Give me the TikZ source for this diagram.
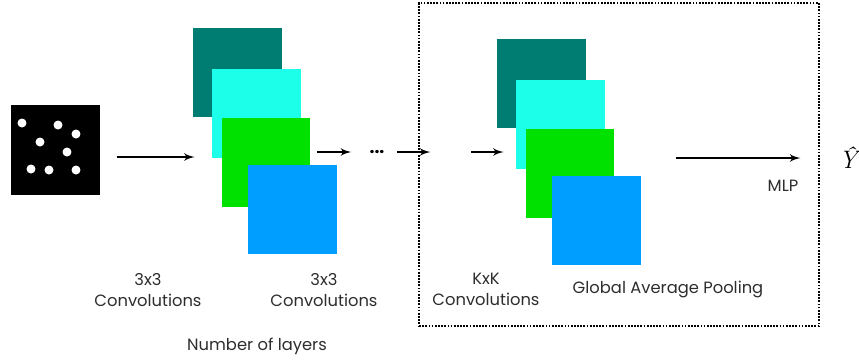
\documentclass[tikz,border=0pt]{standalone}
\usepackage{fontspec}
\setmainfont{Poppins}
\newfontfamily\lmroman{Latin Modern Roman}
\usetikzlibrary{arrows,calc}
\tikzset{>=latex'}
\definecolor{mapteal}{RGB}{0,125,115}
\definecolor{mapcyan}{RGB}{28,255,232}
\definecolor{mapgreen}{RGB}{0,225,0}
\definecolor{mapblue}{RGB}{0,158,255}
\definecolor{lbltext}{RGB}{45,45,45}
\tikzset{
  fmap/.style={rectangle,inner sep=0pt,minimum size=1.78cm},
  lbl/.style={font=\fontsize{9.3}{12}\selectfont,align=center,text=lbltext,inner sep=1pt},
  flow/.style={->,line width=1.1pt}
}

\begin{document}
\begin{tikzpicture}[x=0.02cm,y=-0.02cm]
        \useasboundingbox (0,0) rectangle (859,360);
        % input image
        \node[fill=black,inner sep=0pt,minimum size=1.8cm] (img) at (55.5,150) {};
        \foreach \px/\py in {22/123,58/125,76/134,40/142,67/152,31/169,49/170,76/170}
          \fill[white] (\px,\py) circle[radius=0.09cm];
        % first block of feature maps
        \node[fmap,fill=mapteal] (a1) at (237.5,72.5) {};
        \node[fmap,fill=mapcyan] (b1) at (256.5,113) {};
        \node[fmap,fill=mapgreen] (c1) at (266,162) {};
        \node[fmap,fill=mapblue] (d1) at (292.5,209.5) {};
        % last block
        \node[fmap,fill=mapteal] (a2) at (541.5,83.5) {};
        \node[fmap,fill=mapcyan] (b2) at (560.5,124) {};
        \node[fmap,fill=mapgreen] (c2) at (570,173) {};
        \node[fmap,fill=mapblue] (d2) at (596.5,220.5) {};
        \node[draw,dash pattern=on 1pt off 0.8pt,line width=0.7pt,minimum width=8cm,minimum height=6.46cm] (gap) at (619,164.5) {};
        \node[inner sep=0pt,font=\bfseries] (dots) at (377,152) {...};
        \node[font=\Large\lmroman\itshape] (yhat) at (848,158) {Ŷ};
        % labels
        \node[lbl] (l1) at (148,290) {3x3\\Convolutions};
        \node[lbl] (l2) at (324,290) {3x3\\Convolutions};
        \node[lbl] (l3) at (486,289) {KxK\\Convolutions};
        \node[lbl] (gp) at (668,289) {Global Average Pooling};
        \node[lbl] (nl) at (257,346) {Number of layers};
        \node[lbl] (mlp) at (783,186) {MLP};
        % arrows
        \draw[flow] ([xshift=0.32cm,yshift=-0.14cm]img.east) -- ([xshift=-0.34cm,yshift=-0.14cm]img.east -| b1.west);
        \draw[flow] ([xshift=0.12cm]c1.east |- dots.west) -- ([xshift=-0.36cm]dots.west);
        \draw[flow] ([xshift=0.24cm]dots.east) -- ([xshift=0.24cm]gap.west |- dots.east);
        \draw[flow] ([xshift=1.06cm]gap.west |- dots.east) -- ([xshift=-0.24cm]b2.west |- dots.east);
        \draw[flow] ([xshift=0.7cm]d2.east |- yhat.west) -- (mlp.east |- yhat.west);
\end{tikzpicture}
\end{document}
